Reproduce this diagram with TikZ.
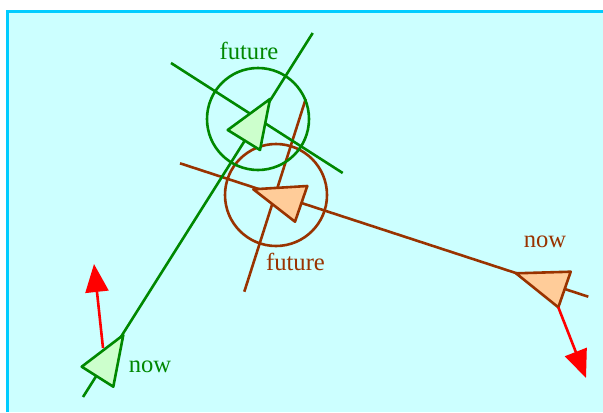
\documentclass[tikz,border=0pt]{standalone}
\usepackage{fontspec}
\setmainfont{Liberation Serif}
\usetikzlibrary{arrows.meta}
\definecolor{paper}{RGB}{204,255,255}
\definecolor{frame}{RGB}{0,204,255}
\definecolor{grn}{RGB}{0,136,0}
\definecolor{grnfill}{RGB}{204,255,204}
\definecolor{brn}{RGB}{153,51,0}
\definecolor{brnfill}{RGB}{255,204,153}
\tikzset{
  worldline/.style={line width=1.3pt},
  lbl/.style={anchor=base, inner sep=0pt, font=\fontsize{12.3}{14}\selectfont},
  velo/.style={red, line width=1.3pt, -{Triangle[length=14pt,width=11.5pt]}}
}
\begin{document}
\begin{tikzpicture}[x=0.5pt,y=-0.5pt]
            % Canvas
            \useasboundingbox (0,0) rectangle (603,412);
            \fill[paper] (7,11) rectangle (603,412);
            \draw[frame, line width=1.5pt] (7,412) -- (7,11) -- (603,11);

            % Brown ship: line of motion, light cone and circle
            \coordinate (b1) at (180,163.3);
            \coordinate (b2) at (588.3,296.7);
            \coordinate (b3) at (244.3,291.7);
            \coordinate (b4) at (305.7,99);
            \draw[brn, worldline] (b1) -- (b2);
            \draw[brn, worldline] (b3) -- (b4);
            \draw[brn, worldline] (276,195) circle (51);

            % Green ship: line of motion, cross line and circle
            \coordinate (g1) at (83,397);
            \coordinate (g2) at (312.7,33);
            \coordinate (g3) at (171,63);
            \coordinate (g4) at (342.7,173);
            \draw[grn, worldline] (g1) -- (g2);
            \draw[grn, worldline] (g3) -- (g4);
            \draw[grn, worldline] (258,119) circle (51);

            % Triangles
            \draw[grn, fill=grnfill, worldline, line join=round]
              (227.7,130) -- (270,99) -- (260,150) -- cycle;
            \draw[brn, fill=brnfill, worldline, line join=round]
              (253.3,189.3) -- (307.3,186) -- (295,221.7) -- cycle;
            \draw[grn, fill=grnfill, worldline, line join=round]
              (81.7,366.7) -- (123.3,335) -- (113.3,386.7) -- cycle;
            \draw[brn, fill=brnfill, worldline, line join=round]
              (516,273.3) -- (570.7,271.7) -- (558.3,307.3) -- cycle;

            % Velocity arrows
            \coordinate (gv0) at (103,348);
            \coordinate (gv1) at (94,264);
            \coordinate (bv0) at (558.3,307.3);
            \coordinate (bv1) at (586,378);
            \draw[velo] (gv0) -- (gv1);
            \draw[velo] (bv0) -- (bv1);

            % Labels
            \node[lbl, grn] (gfuture) at (249,59) {future};
            \node[lbl, brn] (bfuture) at (295.5,270) {future};
            \node[lbl, brn] (bnow) at (545,247.3) {now};
            \node[lbl, grn] (gnow) at (150,372.7) {now};
\end{tikzpicture}
\end{document}
